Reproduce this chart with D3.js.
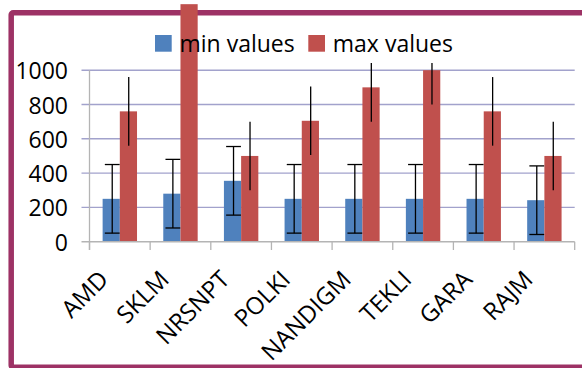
<!DOCTYPE html>
<html>
<head>
<meta charset="utf-8">
<script src="https://cdn.jsdelivr.net/npm/d3@7/dist/d3.min.js"></script>
<style>
  html, body { margin: 0; padding: 0; background: #fff; }
  svg { display: block; }
  text { font-family: "Open Sans", sans-serif; fill: #000; }
</style>
</head>
<body>
<svg id="chart" width="582" height="368"></svg>
<script>
const categories = ["AMD", "SKLM", "NRSNPT", "POLKI", "NANDIGM", "TEKLI", "GARA", "RAJM"];
const minValues = [250, 280, 355, 250, 250, 250, 250, 242];
const maxValues = [760, 1385, 500, 705, 900, 1000, 760, 500];
const minErrors = [200, 200, 200, 200, 200, 200, 200, 200];
const maxErrors = [200, 200, 200, 200, 200, 200, 200, 200];
const yTicks = [0, 200, 400, 600, 800, 1000];
const seriesNames = ["min values", "max values"];
const seriesColors = ["#4f81bd", "#c0504d"];

const svg = d3.select("#chart");
svg.append("rect").attr("width", 582).attr("height", 368).attr("fill", "#fff");

// frame
svg.append("rect")
  .attr("x", 11.2).attr("y", 12.8)
  .attr("width", 640).attr("height", 354.5)
  .attr("rx", 2)
  .attr("fill", "none")
  .attr("stroke", "#9d3265")
  .attr("stroke-width", 5.5);

const x = d3.scaleBand().domain(categories).range([89.5, 574.7]).paddingInner(0).paddingOuter(0);
const xs = d3.scaleBand().domain(seriesNames).range([0, 34.4]);
const y = d3.scaleLinear().domain([0, 1000]).range([241.7, 70.2]);

// gridlines
svg.append("g").selectAll("line").data(yTicks.filter(d => d > 0)).join("line")
  .attr("x1", 81.5).attr("x2", 574.7)
  .attr("y1", d => y(d)).attr("y2", d => y(d))
  .attr("stroke", "#a2a2cc").attr("stroke-width", 1.4);

// y axis line
svg.append("line").attr("x1", 89.5).attr("x2", 89.5).attr("y1", y(1000)).attr("y2", 250)
  .attr("stroke", "#b4b4b4").attr("stroke-width", 1.3);

// y tick labels
svg.append("g").selectAll("text").data(yTicks).join("text")
  .attr("x", 68).attr("y", d => y(d))
  .attr("text-anchor", "end")
  .attr("dominant-baseline", "central")
  .attr("font-size", 23)
  .text(d => d);

// bars
const data = categories.map((c, i) => ({
  cat: c,
  vals: [
    { s: seriesNames[0], v: minValues[i], e: minErrors[i], col: seriesColors[0], cap: true },
    { s: seriesNames[1], v: maxValues[i], e: maxErrors[i], col: seriesColors[1], cap: false }
  ]
}));

const groups = svg.append("g").selectAll("g").data(data).join("g")
  .attr("transform", d => `translate(${x(d.cat) + (x.bandwidth() - 34.4) / 2},0)`);

groups.selectAll("rect").data(d => d.vals).join("rect")
  .attr("x", d => xs(d.s))
  .attr("width", xs.bandwidth())
  .attr("y", d => y(d.v))
  .attr("height", d => y(0) - y(d.v))
  .attr("fill", d => d.col);

// x axis baseline and ticks
svg.append("line").attr("x1", 81.5).attr("x2", 574.7).attr("y1", y(0)).attr("y2", y(0))
  .attr("stroke", "#b4b4b4").attr("stroke-width", 1.4);
const bounds = categories.map(c => x(c)).concat([x.range()[1]]);
svg.append("g").selectAll("line").data(bounds).join("line")
  .attr("x1", d => d).attr("x2", d => d)
  .attr("y1", y(0)).attr("y2", 250)
  .attr("stroke", "#b4b4b4").attr("stroke-width", 1.3);

// error bars, clipped to plot area
svg.append("clipPath").attr("id", "plotclip").append("rect")
  .attr("x", 80).attr("y", 63).attr("width", 500).attr("height", 200);

const eg = svg.append("g").attr("clip-path", "url(#plotclip)");
data.forEach(d => {
  const gx = x(d.cat) + (x.bandwidth() - 34.4) / 2;
  d.vals.forEach(v => {
    const cx = gx + xs(v.s) + xs.bandwidth() / 2 + (v.cap ? 1 : 0.3);
    eg.append("line")
      .attr("x1", cx).attr("x2", cx)
      .attr("y1", y(v.v + v.e)).attr("y2", y(v.v - v.e))
      .attr("stroke", "#000").attr("stroke-width", 1.3);
    if (v.cap) {
      [v.v + v.e, v.v - v.e].forEach(t => {
        eg.append("line")
          .attr("x1", cx - 7.4).attr("x2", cx + 7.4)
          .attr("y1", y(t)).attr("y2", y(t))
          .attr("stroke", "#000").attr("stroke-width", 1.3);
      });
    }
  });
});

// x labels
svg.append("g").selectAll("text").data(categories).join("text")
  .attr("transform", d => `translate(${x(d) + x.bandwidth() / 2 - 10},281) rotate(-45)`)
  .attr("text-anchor", "end")
  .attr("font-size", 24)
  .text(d => d);

// legend
const legX = [155, 308.3];
const lg = svg.append("g").selectAll("g").data(seriesNames).join("g")
  .attr("transform", (d, i) => `translate(${legX[i]},35)`);
lg.append("rect").attr("width", 16.7).attr("height", 16.7).attr("fill", (d, i) => seriesColors[i]);
lg.append("text").attr("x", 24.5).attr("y", 16.8).attr("font-size", 23).text(d => d);
</script>
</body>
</html>
